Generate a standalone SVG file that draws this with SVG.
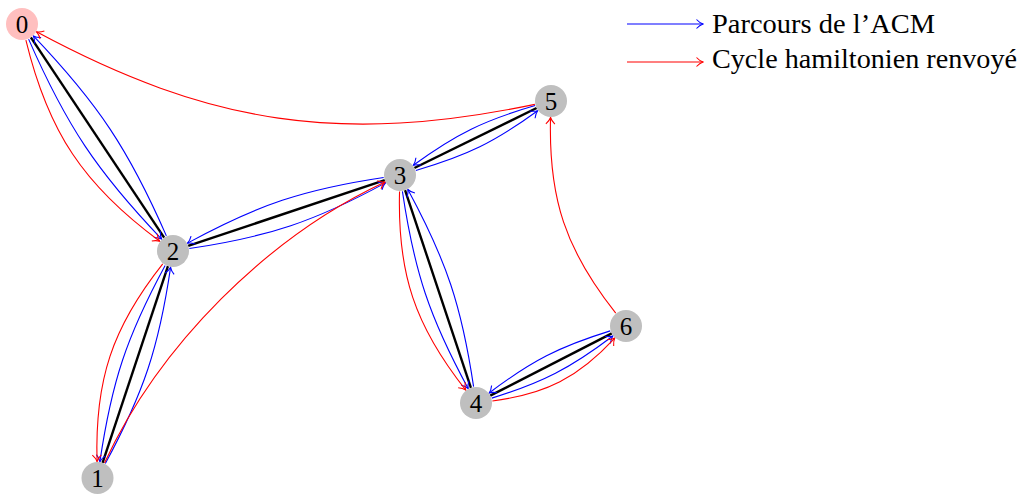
<svg xmlns="http://www.w3.org/2000/svg" width="1025" height="495" viewBox="0 0 1025 495">
<style>
.node circle{fill:#bfbfbf;stroke:none}
#n0 circle{fill:#ffbfbf}
.node text{font-family:"Liberation Serif","DejaVu Serif",serif;font-size:25px;text-anchor:middle;fill:#000}
.mst{stroke:#000;stroke-width:2.4;fill:none}
.blue{stroke:#0000ff;stroke-width:1.1;fill:none;marker-end:url(#ab)}
.red{stroke:#ff0000;stroke-width:1.1;fill:none;marker-end:url(#ar)}
.leg{font-family:"Liberation Serif","DejaVu Serif",serif;font-size:28px;fill:#000}
</style>
<defs>
<marker id="ab" viewBox="-9 -6 10 12" refX="0" refY="0" markerWidth="10" markerHeight="12" markerUnits="userSpaceOnUse" orient="auto">
<path d="M-6.5,-4.5 C-4,-1.8 -1.5,-0.5 0,0 C-1.5,0.5 -4,1.8 -6.5,4.5" fill="none" stroke="#0000ff" stroke-width="1.1"/>
</marker>
<marker id="ar" viewBox="-9 -6 10 12" refX="0" refY="0" markerWidth="10" markerHeight="12" markerUnits="userSpaceOnUse" orient="auto">
<path d="M-6.5,-4.5 C-4,-1.8 -1.5,-0.5 0,0 C-1.5,0.5 -4,1.8 -6.5,4.5" fill="none" stroke="#ff0000" stroke-width="1.1"/>
</marker>
</defs>
<g id="connectors">
<line class="mst" x1="30.86" y1="37.33" x2="164.14" y2="237.67"/>
<line class="mst" x1="167.95" y1="266.18" x2="102.55" y2="462.82"/>
<line class="mst" x1="188.17" y1="245.92" x2="384.83" y2="180.08"/>
<line class="mst" x1="414.36" y1="167.96" x2="536.64" y2="108.04"/>
<line class="mst" x1="405.06" y1="190.18" x2="470.94" y2="387.82"/>
<line class="mst" x1="490.24" y1="395.69" x2="611.76" y2="333.31"/>
<path class="blue" d="M28.61,39.12 C66.29,125.24 96.73,171.04 161.61,239.06"/>
<path class="blue" d="M166.39,235.88 C128.71,149.76 98.27,103.96 33.39,35.94"/>
<path class="blue" d="M165.15,265.52 C126.68,336.69 111.71,381.65 99.91,461.68"/>
<path class="blue" d="M105.35,463.48 C143.82,392.31 158.79,347.35 170.59,267.32"/>
<path class="blue" d="M189.32,248.56 C269.43,236.57 314.32,221.54 385.5,182.88"/>
<path class="blue" d="M383.68,177.44 C303.57,189.43 258.68,204.46 187.5,243.12"/>
<path class="blue" d="M415.85,170.42 C466.86,155.68 494.78,142.03 537.67,110.73"/>
<path class="blue" d="M535.15,105.58 C484.14,120.32 456.22,133.97 413.33,165.27"/>
<path class="blue" d="M402.42,191.32 C414.35,271.84 429.38,316.91 468.14,388.49"/>
<path class="blue" d="M473.58,386.68 C461.65,306.16 446.62,261.09 407.86,189.51"/>
<path class="blue" d="M491.76,398.13 C542.68,382.4 570.37,368.17 612.85,335.97"/>
<path class="blue" d="M610.24,330.87 C559.32,346.6 531.63,360.83 489.15,393.03"/>
<path class="red" d="M25.89,40.03 C48.19,131.96 83.53,185.13 159.71,241.22"/>
<path class="red" d="M162.75,263.93 C112.13,327.8 94.75,380.04 97.04,461.51"/>
<path class="red" d="M104.46,463.04 C159.29,345.17 267.27,237.03 385.05,181.99"/>
<path class="red" d="M399.55,191.49 C397.31,273.36 414.88,325.89 465.75,390.07"/>
<path class="red" d="M492.37,400.94 C545.85,394.21 578.14,377.64 614.78,338.1"/>
<path class="red" d="M615.74,313.08 C565.56,249.88 548.34,198.16 550.55,117.49"/>
<path class="red" d="M534.84,104.35 C341.84,144.38 210.1,125.21 36.53,31.82"/>
</g>
<g id="n0" class="node"><circle cx="22" cy="24" r="16"/><text x="22" y="32.8">0</text></g>
<g id="n1" class="node"><circle cx="97.5" cy="478" r="16"/><text x="97.5" y="486.8">1</text></g>
<g id="n2" class="node"><circle cx="173" cy="251" r="16"/><text x="173" y="259.8">2</text></g>
<g id="n3" class="node"><circle cx="400" cy="175" r="16"/><text x="400" y="183.8">3</text></g>
<g id="n4" class="node"><circle cx="476" cy="403" r="16"/><text x="476" y="411.8">4</text></g>
<g id="n5" class="node"><circle cx="551" cy="101" r="16"/><text x="551" y="109.8">5</text></g>
<g id="n6" class="node"><circle cx="626" cy="326" r="16"/><text x="626" y="334.8">6</text></g>
<g id="legend">
<line class="blue" x1="627" y1="24" x2="703" y2="24"/>
<text class="leg" x="712" y="33" textLength="223" lengthAdjust="spacingAndGlyphs">Parcours de l’ACM</text>
<line class="red" x1="627" y1="62" x2="703" y2="62"/>
<text class="leg" x="712" y="68" textLength="305" lengthAdjust="spacingAndGlyphs">Cycle hamiltonien renvoyé</text>
</g>
</svg>
